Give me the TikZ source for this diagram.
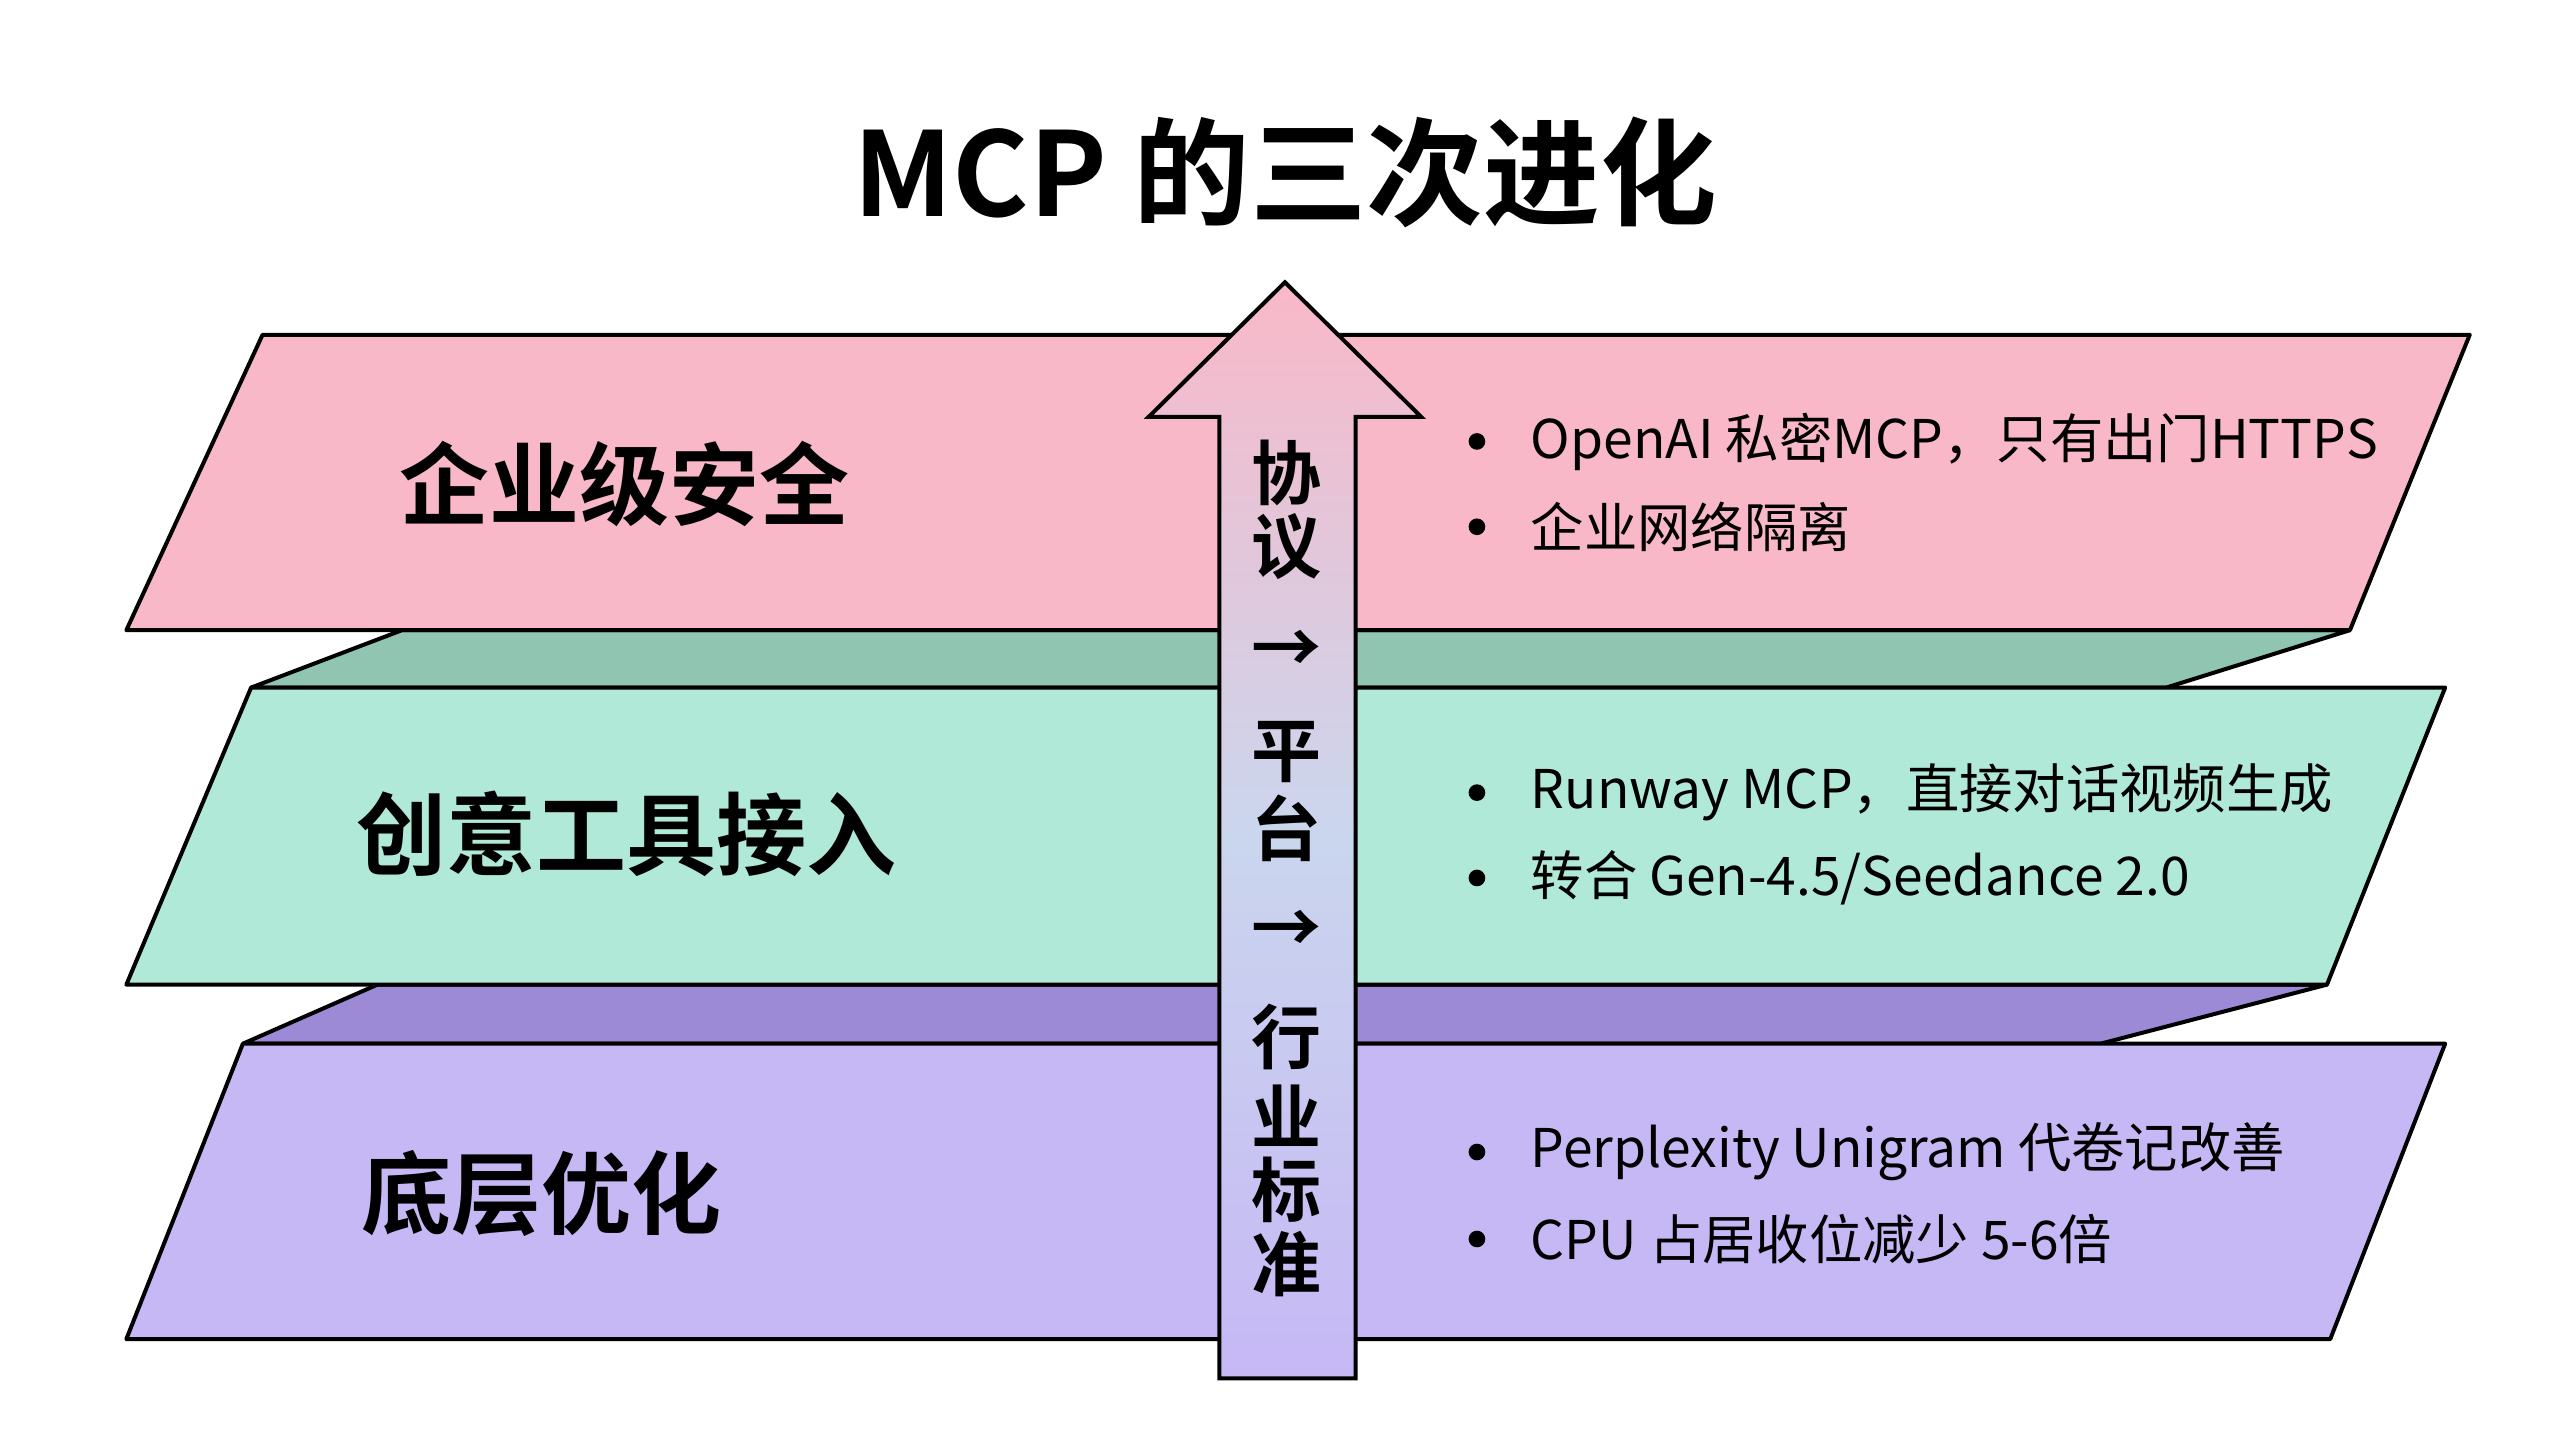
\documentclass[tikz,border=0pt]{standalone}
\usepackage{fontspec}
\setmainfont{Noto Sans CJK SC}
\newfontfamily\cjkbold{Noto Sans CJK SC Bold}
\usetikzlibrary{positioning}
\definecolor{layerpink}{HTML}{F9B8C8}
\definecolor{layergreen}{HTML}{B0E9D7}
\definecolor{bandgreen}{HTML}{8FC5B1}
\definecolor{layerpurple}{HTML}{C6B8F5}
\definecolor{bandpurple}{HTML}{9D8AD6}
\tikzset{
  layer/.style={draw=black, line width=1.2pt, line join=round},
  band/.style={draw=black, line width=1.2pt, line join=round},
  lefttitle/.style={anchor=west, inner sep=0pt, font=\cjkbold\fontsize{27}{30}\selectfont},
  point/.style={anchor=west, inner sep=0pt, font=\fontsize{16}{18}\selectfont},
  dot/.style={circle, fill=black, inner sep=0pt, minimum size=5pt},
  upchar/.style={inner sep=0pt, font=\cjkbold\fontsize{21}{22}\selectfont},
}
\begin{document}
\begin{tikzpicture}[x=0.4923pt,y=-0.4923pt]
\useasboundingbox[fill=white] (0,0) rectangle (1560,870.8);

% title
\node[font=\cjkbold\fontsize{35}{40}\selectfont] (title) at (783,105) {MCP 的三次进化};

% back bands
\draw[band, fill=bandpurple] (230,600) -- (1418,600) -- (1280,636) -- (148,636) -- cycle;
\draw[band, fill=bandgreen] (245,384) -- (1432,384) -- (1320,419) -- (153,419) -- cycle;

% layers
\draw[layer, fill=layerpurple] (148,636) -- (1490,636) -- (1420,816) -- (77,816) -- cycle;
\draw[layer, fill=layergreen] (153,419) -- (1490,419) -- (1418,600) -- (77,600) -- cycle;
\draw[layer, fill=layerpink] (160,204) -- (1505,204) -- (1432,384) -- (77,384) -- cycle;

% big arrow
\draw[line width=1.2pt, line join=miter, top color=layerpink, bottom color=layerpurple, middle color=layergreen!40!layerpurple!80]
  (783,172) -- (866,254) -- (826,254) -- (826,840) -- (743,840) -- (743,254) -- (700,254) -- cycle;

% arrow text
\foreach \ch/\y [count=\i] in {协/288,议/333,→/397,平/458,台/505,→/568,行/632,业/680,标/725,准/770}
  \node[upchar] (up\i) at (784,\y) {\ch};

% layer titles
\node[lefttitle] (sec) at (243,295) {企业级安全};
\node[lefttitle] (tool) at (217,508) {创意工具接入};
\node[lefttitle] (base) at (220,727) {底层优化};

% points
\foreach \txt/\y [count=\i] in {
  {OpenAI 私密MCP，只有出门HTTPS}/269,
  {企业网络隔离}/321,
  {Runway MCP，直接对话视频生成}/483,
  {转合 Gen-4.5/Seedance 2.0}/535,
  {Perplexity Unigram 代卷记改善}/702,
  {CPU 占居收位减少 5-6倍}/755}{
  \node[dot] (dot\i) at (900,\y) {};
  \node[point, right=16pt of dot\i.center, anchor=west] (pt\i) {\txt};
}
\end{tikzpicture}
\end{document}
